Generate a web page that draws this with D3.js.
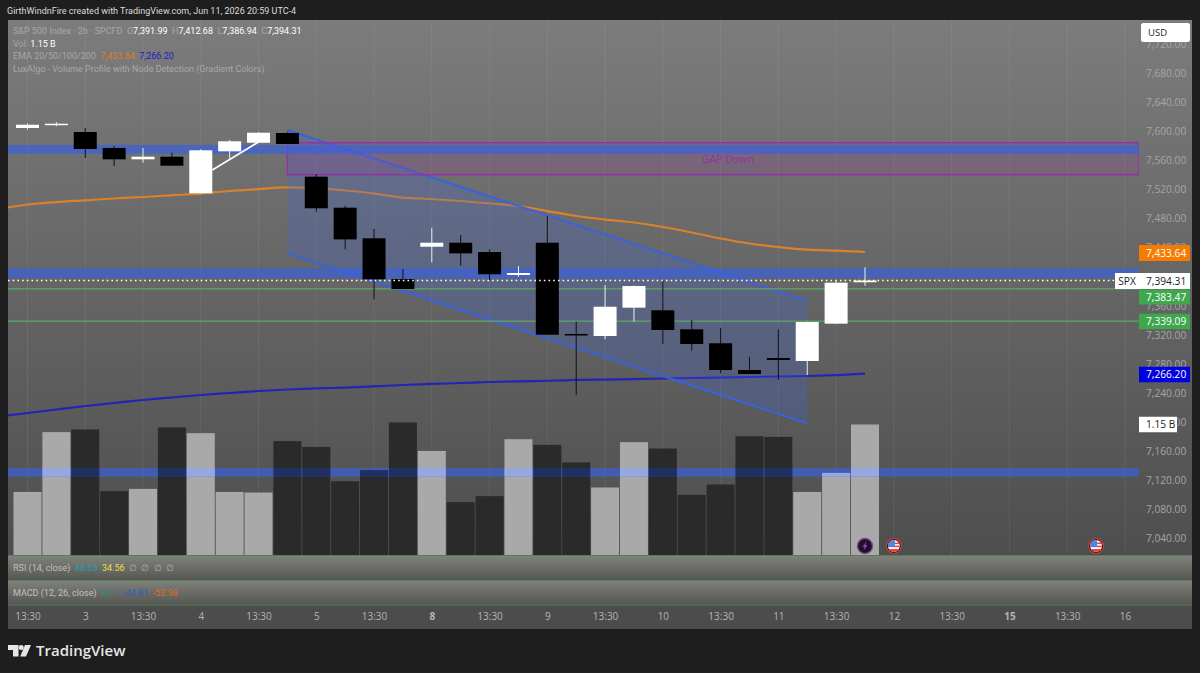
<!DOCTYPE html>
<html>
<head>
<meta charset="utf-8">
<script src="https://cdn.jsdelivr.net/npm/d3@7"></script>
<style>
html,body{margin:0;padding:0;background:#1e1e1e;overflow:hidden}
text{font-family:"Open Sans",sans-serif;white-space:pre}
</style>
</head>
<body>
<div id="chart"></div>
<script>
// candles, 2h bars
var opens  = [7604.3,7608.4,7598.8,7576.8,7561.2,7564.8,7514.4,7572.2,7584,7597.4,7537.3,7494.6,7452.5,7396.5,7440.9,7446.4,7433.6,7402,7446.4,7320.8,7318,7357,7353.4,7327.2,7308,7271.2,7287.7,7283.6,7335,7391.99];
var highs  = [7610.5,7612.5,7604.3,7579.5,7576.8,7570.3,7575,7587.8,7598.8,7598.4,7541,7497,7465.3,7410.2,7467,7457,7437.3,7414.4,7483.2,7337.7,7388.2,7387.5,7395,7340,7329,7289.5,7327.2,7338,7394,7412.68];
var lows   = [7602.2,7607,7563,7552,7556.5,7552.4,7514.4,7562,7584,7582.3,7489,7437.3,7368.5,7382.7,7419.4,7414.8,7395,7399.6,7319.8,7236.8,7313.5,7337.7,7307,7297.8,7266.7,7265.7,7257.5,7264.3,7335,7386.94];
var closes = [7608.8,7610.2,7575.4,7561.2,7564.8,7552.4,7573.6,7586,7597.8,7582.3,7493.8,7451,7396,7382.7,7446.4,7431.8,7403,7404.7,7319.8,7319,7358.3,7386.8,7326.3,7307,7271.2,7265.7,7285,7337.3,7391.4,7394.31];
var volumes = [0.558,1.083,1.106,0.565,0.585,1.124,1.074,0.558,0.553,1.004,0.953,0.652,0.749,1.168,0.918,0.468,0.521,1.021,0.971,0.817,0.597,0.995,0.939,0.532,0.623,1.047,1.041,0.558,0.725,1.15];

// EMAs, first value sits one bar left of the first candle
var emaOrange = [7492.8,7499,7502.4,7504.8,7507.3,7509.3,7511.7,7514.1,7517.6,7520.3,7522.7,7521.7,7518.3,7514.1,7508.6,7506.6,7503.8,7500.4,7496.9,7490,7483.2,7478.3,7474.2,7468,7460.5,7452.2,7445.3,7440.5,7436.8,7435.4,7433.64];
var emaBlue = [7207.2,7212,7216.9,7221.7,7225.8,7229.9,7233.4,7236.8,7239.6,7242.3,7244.4,7245.8,7247.1,7248.8,7250.6,7252,7253.3,7254.7,7255.7,7256.4,7257.5,7258.1,7258.8,7259.5,7260.2,7260.9,7261.6,7262.3,7263,7264.3,7266.2];

// drawings
var bandPrices = [[7581,7568.5],[7411.6,7397.8],[7136.3,7124.4]];
var greenLevels = [7383.47,7339.09];
var gapBox = [7584,7540];
var channelIdx = [9,27];
var channelTop = [7601.5,7366.6];
var channelBottom = [7431.8,7197.9];
var whiteLineIdx = [6.4,8];
var whiteLinePrice = [7546.5,7585];

var priceTicks = [7720,7680,7640,7600,7560,7520,7480,7440,7400,7360,7320,7280,7240,7200,7160,7120,7080,7040];
var timeIdx = [0,2,4,6,8,10,12,14,16,18,20,22,24,26,28,30,32,34,36,38];
var timeLabels = ["13:30","3","13:30","4","13:30","5","13:30","8","13:30","9","13:30","10","13:30","11","13:30","12","13:30","15","13:30","16"];
var boldLabels = ["8","15"];
var flagIdx = [30,37];
var boltIdx = [29];

var width = 1200, height = 673;
var left = 8, right = 1192, top_ = 20, paneRight = 1139;
var volBottom = 555.5, rsiBottom = 580.5, macdBottom = 605, axisBottom = 629;

var x = d3.scaleLinear().domain([0,29]).range([27.5,865]);
var y = d3.scaleLinear().domain([7040,7680]).range([538,73]);
var v = d3.scaleLinear().domain([0,1.15]).range([volBottom,volBottom-131]);

var svg = d3.select("#chart").append("svg").attr("width",width).attr("height",height).style("display","block");
var defs = svg.append("defs");

function grad(id,y1,y2,c1,c2){
  var g = defs.append("linearGradient").attr("id",id).attr("gradientUnits","userSpaceOnUse")
    .attr("x1",0).attr("x2",0).attr("y1",y1).attr("y2",y2);
  g.append("stop").attr("offset",0).attr("stop-color",c1);
  g.append("stop").attr("offset",1).attr("stop-color",c2);
}
grad("bg",top_,volBottom,"#7c7c7c","#4e4e4e");
grad("rsi",volBottom,rsiBottom,"#82827c","#555552");
grad("macd",rsiBottom,macdBottom,"#80807c","#555552");

defs.append("clipPath").attr("id","plot").append("rect")
  .attr("x",left).attr("y",top_).attr("width",paneRight-left).attr("height",volBottom-top_);

svg.append("rect").attr("width",width).attr("height",height).attr("fill","#1e1e1e");
svg.append("rect").attr("x",left).attr("y",top_).attr("width",right-left).attr("height",volBottom-top_).attr("fill","url(#bg)");
svg.append("rect").attr("x",left).attr("y",volBottom).attr("width",right-left).attr("height",rsiBottom-volBottom).attr("fill","url(#rsi)");
svg.append("rect").attr("x",left).attr("y",rsiBottom).attr("width",right-left).attr("height",macdBottom-rsiBottom).attr("fill","url(#macd)");
svg.append("rect").attr("x",left).attr("y",macdBottom).attr("width",right-left).attr("height",axisBottom-macdBottom).attr("fill","#4c4c4c");

var plot = svg.append("g").attr("clip-path","url(#plot)");

// vertical grid
plot.selectAll(".grid").data(timeIdx).enter().append("line")
  .attr("x1",d=>x(d)).attr("x2",d=>x(d)).attr("y1",top_).attr("y2",volBottom)
  .attr("stroke","#fff").attr("stroke-opacity",0.07);

// volume
var bw = 28;
plot.selectAll(".vol").data(volumes).enter().append("rect")
  .attr("x",(d,i)=>x(i)-bw/2).attr("width",bw)
  .attr("y",d=>v(d)).attr("height",d=>volBottom-v(d))
  .attr("fill",(d,i)=>closes[i]>=opens[i]?"#a9a9a9":"#2a2a2a");

// emas
var emaLine = d3.line().x((d,i)=>x(i-1)).y(d=>y(d)).curve(d3.curveMonotoneX);
plot.append("path").attr("d",emaLine(emaOrange)).attr("fill","none").attr("stroke","#d9822b").attr("stroke-width",2.2);
plot.append("path").attr("d",emaLine(emaBlue)).attr("fill","none").attr("stroke","#2323b8").attr("stroke-width",2.2);

// channel
var cx0 = x(channelIdx[0]), cx1 = x(channelIdx[1]);
var channel = [[cx0,y(channelTop[0])],[cx1,y(channelTop[1])],[cx1,y(channelBottom[1])],[cx0,y(channelBottom[0])]];
plot.append("path").attr("d",d3.line()(channel)+"Z").attr("fill","#3f66d8").attr("fill-opacity",0.24);
plot.append("line").attr("x1",cx0).attr("x2",cx1)
  .attr("y1",y((channelTop[0]+channelBottom[0])/2)).attr("y2",y((channelTop[1]+channelBottom[1])/2))
  .attr("stroke","#3f66d8").attr("stroke-opacity",0.3).attr("stroke-dasharray","4,4");
[channelTop,channelBottom].forEach(function(c){
  plot.append("line").attr("x1",cx0).attr("x2",cx1).attr("y1",y(c[0])).attr("y2",y(c[1]))
    .attr("stroke","#3a62dc").attr("stroke-width",2);
});

// gap box
plot.append("rect").attr("x",cx0).attr("width",paneRight-cx0)
  .attr("y",y(gapBox[0])).attr("height",y(gapBox[1])-y(gapBox[0]))
  .attr("fill","#a03aa0").attr("fill-opacity",0.2).attr("stroke","#8f33a8").attr("stroke-width",1.5);
plot.append("text").attr("x",728).attr("y",y(7560)+3).attr("text-anchor","middle")
  .attr("font-size",10.5).attr("fill","#8f33a8").text("GAP Down");

// blue zones
plot.selectAll(".band").data(bandPrices).enter().append("rect")
  .attr("x",left).attr("width",paneRight-left)
  .attr("y",d=>y(d[0])).attr("height",d=>y(d[1])-y(d[0]))
  .attr("fill","#3a62dc").attr("fill-opacity",0.68);

// the low zone tints the volume bars instead of covering them
var lowTop = y(bandPrices[2][0]), lowBottom = y(bandPrices[2][1]);
volumes.forEach(function(d,i){
  if(v(d)>=lowBottom) return;
  var t = Math.max(v(d),lowTop);
  plot.append("rect").attr("x",x(i)-bw/2).attr("width",bw)
    .attr("y",t).attr("height",lowBottom-t)
    .attr("fill",closes[i]>=opens[i]?"#95a8e0":"#1f3060");
});

// green levels
plot.selectAll(".lvl").data(greenLevels).enter().append("line")
  .attr("x1",left).attr("x2",paneRight).attr("y1",d=>y(d)+0.5).attr("y2",d=>y(d)+0.5)
  .attr("stroke","#5fa868").attr("stroke-width",1.2);

// candles
var cw = 23;
var candle = plot.selectAll(".candle").data(opens).enter().append("g");
candle.append("line")
  .attr("x1",(d,i)=>x(i)).attr("x2",(d,i)=>x(i))
  .attr("y1",(d,i)=>y(highs[i])).attr("y2",(d,i)=>y(lows[i]))
  .attr("stroke",(d,i)=>closes[i]>=opens[i]?"#eee":"#111").attr("stroke-width",1);
candle.append("rect")
  .attr("x",(d,i)=>x(i)-cw/2).attr("width",cw)
  .attr("y",(d,i)=>y(Math.max(opens[i],closes[i])))
  .attr("height",(d,i)=>Math.max(1.5,Math.abs(y(opens[i])-y(closes[i]))))
  .attr("fill",(d,i)=>closes[i]>=opens[i]?"#fff":"#000");

// white trend line
plot.append("line").attr("x1",x(whiteLineIdx[0])).attr("x2",x(whiteLineIdx[1]))
  .attr("y1",y(whiteLinePrice[0])).attr("y2",y(whiteLinePrice[1]))
  .attr("stroke","#fff").attr("stroke-width",1.6);

// last price dots
var lastPrice = closes[closes.length-1];
plot.append("line").attr("x1",left).attr("x2",paneRight).attr("y1",y(lastPrice)).attr("y2",y(lastPrice))
  .attr("stroke","#fff").attr("stroke-width",1.6).attr("stroke-dasharray","1.6,3.1");

// event icons
var iconY = 546;
flagIdx.forEach(function(i){
  var g = svg.append("g").attr("transform","translate("+x(i)+","+iconY+")");
  g.append("circle").attr("r",7.4).attr("fill","#111").attr("stroke","#d43a3a").attr("stroke-width",1.2);
  g.append("clipPath").attr("id","flag"+i).append("circle").attr("r",6);
  var f = g.append("g").attr("clip-path","url(#flag"+i+")");
  f.append("rect").attr("x",-6).attr("y",-6).attr("width",12).attr("height",12).attr("fill","#fff");
  f.append("rect").attr("x",-6).attr("y",-3.5).attr("width",12).attr("height",1.6).attr("fill","#e04848");
  f.append("rect").attr("x",-6).attr("y",-0.4).attr("width",12).attr("height",1.6).attr("fill","#e04848");
  f.append("rect").attr("x",-6).attr("y",3).attr("width",12).attr("height",3).attr("fill","#e04848");
  f.append("rect").attr("x",-6).attr("y",-6).attr("width",7).attr("height",7).attr("fill","#4a86e0");
});
boltIdx.forEach(function(i){
  var g = svg.append("g").attr("transform","translate("+x(i)+","+iconY+")");
  g.append("circle").attr("r",7.5).attr("fill","#1c1224").attr("stroke","#7a3f98").attr("stroke-width",1.4);
  g.append("path").attr("d","M1.5,-4.5L-2.5,0.8H-0.3L-1.5,4.5L2.5,-0.8H0.3Z").attr("fill","#9a48c8");
});

// pane separators
[volBottom,rsiBottom,macdBottom].forEach(function(p){
  svg.append("line").attr("x1",left).attr("x2",right).attr("y1",p).attr("y2",p)
    .attr("stroke","#4f8058").attr("stroke-width",1);
});

// price axis
var yAxis = d3.axisRight(y).tickValues(priceTicks).tickSize(0).tickPadding(0)
  .tickFormat(d3.format(",.2f"));
var gy = svg.append("g").attr("transform","translate(1146,0)").call(yAxis);
gy.select(".domain").remove();
gy.selectAll("text").attr("font-size",10.2).attr("fill","#a6a6a6").attr("dy","0.35em")
  .style("font-family",'"Open Sans",sans-serif');

// time axis
var xAxis = d3.axisBottom(x).tickValues(timeIdx).tickSize(0).tickPadding(0)
  .tickFormat((d,i)=>timeLabels[i]);
var gx = svg.append("g").attr("transform","translate(0,613)").call(xAxis);
gx.select(".domain").remove();
gx.selectAll("text").attr("font-size",10).attr("fill","#b4b4b4")
  .attr("font-weight",function(){return boldLabels.indexOf(this.textContent)>=0?"bold":"normal"})
  .style("font-family",'"Open Sans",sans-serif');

// price labels
function tag(x0,w,yc,h,bg,fg,txt,anchor,tx){
  svg.append("rect").attr("x",x0).attr("y",yc-h/2).attr("width",w).attr("height",h).attr("fill",bg);
  svg.append("text").attr("x",tx).attr("y",yc+3.6).attr("text-anchor",anchor)
    .attr("font-size",10.2).attr("fill",fg).text(txt);
}
tag(1139,51,253,16,"#f57c00","#fff","7,433.64","start",1146);
tag(1115,24,281,16,"#fff","#222","SPX","middle",1127);
tag(1139,51,281,16,"#fff","#222","7,394.31","start",1146);
tag(1139,51,297,15,"#3fa84f","#fff","7,383.47","start",1146);
tag(1139,51,321.5,15.5,"#3fa84f","#fff","7,339.09","start",1146);
tag(1139,51,374.5,15.5,"#0000e0","#fff","7,266.20","start",1146);
tag(1139,38,424.5,15.5,"#fff","#222","1.15 B","start",1146);

// USD button
svg.append("rect").attr("x",1141).attr("y",23).attr("width",49).attr("height",19).attr("rx",2.5).attr("fill","#fff");
svg.append("text").attr("x",1148).attr("y",36).attr("font-size",9.5).attr("fill","#222").text("USD");

// header
svg.append("text").attr("x",7).attr("y",14).attr("font-size",9).attr("fill","#dcdcdc")
  .style("font-family","Roboto,sans-serif")
  .text("GirthWindnFire created with TradingView.com, Jun 11, 2026 20:59 UTC-4");

// legend rows
function legend(yy,parts){
  var t = svg.append("text").attr("x",13).attr("y",yy).attr("font-size",9).style("font-family","Roboto,sans-serif");
  parts.forEach(function(p){
    t.append("tspan").attr("fill",p[1]).text(p[0]);
  });
}
var mute = "#a8a8a8";
legend(34,[["S&P 500 Index · 2h · SPCFD  ",mute],["O",mute],["7,391.99  ","#fff"],["H",mute],["7,412.68  ","#fff"],["L",mute],["7,386.94  ","#fff"],["C",mute],["7,394.31","#fff"]]);
legend(47,[["Vol  ",mute],["1.15 B","#fff"]]);
legend(59,[["EMA 20/50/100/200  ",mute],["7,433.64  ","#e08020"],["7,266.20","#1c1cc8"]]);
legend(72,[["LuxAlgo - Volume Profile with Node Detection (Gradient Colors)",mute]]);
legend(570.5,[["RSI (14, close)  ","#c0c0c0"],["48.85  ","#1f9fb0"],["34.56  ","#e8e040"],["∅  ∅  ∅  ∅","#b0b0b0"]]);
legend(595.5,[["MACD (12, 26, close)  ","#c0c0c0"],["8.17  ","#2e8a80"],["-44.81  ","#2a5fc0"],["-52.98","#e06a20"]]);

// logo
var logo = svg.append("g").attr("fill","#e6e6e6");
logo.append("path").attr("d","M8,645H18.5V656.5H13V650H8Z");
logo.append("circle").attr("cx",21.2).attr("cy",647.5).attr("r",2.5);
logo.append("path").attr("d","M25,645H31L26,656.5H20.2Z");
svg.append("text").attr("x",36).attr("y",656).attr("font-size",15).attr("font-weight",600)
  .attr("fill","#e6e6e6").text("TradingView");
</script>
</body>
</html>
